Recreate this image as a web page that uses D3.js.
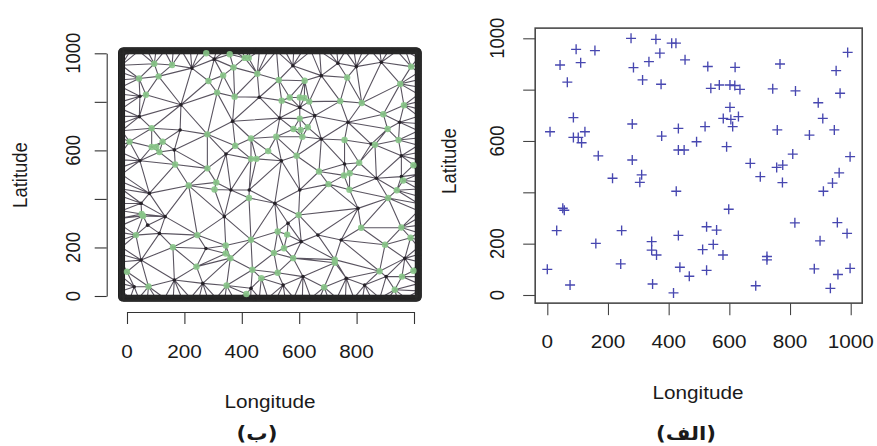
<!DOCTYPE html>
<html><head><meta charset="utf-8">
<script src="https://cdn.jsdelivr.net/npm/d3@7"></script>
<style>
body{margin:0;background:#fff}
svg{display:block}
text{font-family:"Liberation Sans",Arial,Helvetica,sans-serif;fill:#1a1a1a}
</style>
</head><body>
<svg id="c" width="877" height="446"></svg>
<script>
// observation locations (shared by both panels)
const lon = [0,75,31,51,56,9,86,86,102,124,113,42,95,110,66,157,168,160,215,245,242,276,284,280,280,314,311,305,335,358,371,375,377,410,424,454,425,432,432,451,344,344,360,347,416,432,437,468,492,520,529,525,558,512,547,579,525,539,567,602,618,635,619,591,602,580,605,630,611,598,669,702,724,724,687,743,767,758,756,776,775,809,818,816,864,893,908,910,940,962,946,952,965,990,998,956,988,899,880,958,998,933];
const lat = [100,39,251,338,330,636,691,614,614,636,593,896,957,905,829,952,542,201,455,251,121,1000,886,666,526,838,468,439,909,996,942,821,619,981,981,916,404,649,565,565,208,175,156,43,8,232,108,73,597,656,890,266,253,177,197,156,96,805,818,818,816,801,887,578,731,688,684,695,656,334,513,461,150,137,36,803,900,643,497,506,438,549,795,281,623,749,688,404,436,476,643,874,786,945,539,282,240,211,102,80,104,26];
// extra (black) mesh vertices
const meshLon = [226,188,45,43,368,185,461,165,45,304,345,578,735,799,886,677,602,532,654,950,770,677,851,956,758,538,49,72,133,113,49,165,264,339,275,25,426,362,432,78,602,805,515,869,561,607,665,746,968,613,544,764,828,903,956];
const meshLat = [939,788,823,739,720,684,819,602,557,976,585,949,959,945,963,908,777,733,743,716,716,647,626,578,544,557,382,292,327,258,148,66,52,327,196,38,437,437,32,423,437,361,382,485,300,224,251,231,155,80,45,73,45,80,492];
const axisTicks = [0,200,400,600,800,1000];
const leftXLabels = ["0","200","400","600","800",""];
const yLabels = ["0","200","","600","","1000"];
const rightXLabels = ["0","200","400","600","800","1000"];
const boundaryLon = [-19,1015];
const boundaryLat = [-9,1010];
const meshStep = 30, ringStep = 3;

const svg = d3.select("#c");
const SX = 1.12, FS = 18.5;

function htext(x,y,str,opt={}){
  return svg.append("text").attr("transform",`translate(${x},${y}) scale(${SX},1)`)
    .attr("text-anchor","middle").attr("dy",opt.dy||"0.35em")
    .style("font-size",(opt.fs||FS)+"px").style("font-family",opt.ff||null)
    .style("font-weight",opt.fw||null).text(str);
}
function vtext(x,y,str,opt={}){
  return svg.append("text").attr("transform",`translate(${x},${y}) scale(${SX},1) rotate(-90)`)
    .attr("text-anchor","middle").attr("dy","0.35em")
    .style("font-size",(opt.fs||FS)+"px").text(str);
}

// ---------- LEFT PANEL (mesh) ----------
const xL = d3.scaleLinear().domain([0,1000]).range([127,414]);
const yL = d3.scaleLinear().domain([0,1000]).range([296,53.3]);

const nodes = lon.map((x,i)=>[x,lat[i]]);
const meshNodes = meshLon.map((x,i)=>[x,meshLat[i]]);
nodes.push(...meshNodes);
const [bx0,bx1] = boundaryLon, [by0,by1] = boundaryLat;
const ring = [];
d3.range(bx0,bx1,meshStep).forEach(x=>{ring.push([x,by0]); ring.push([x,by1]);});
d3.range(by0,by1,meshStep).forEach(y=>{ring.push([bx0,y]); ring.push([bx1,y]);});
ring.push([bx1,by1]);
nodes.push(...ring);

const del = d3.Delaunay.from(nodes);
const {triangles, halfedges} = del;
const p = d3.path();
for (let e=0;e<triangles.length;e++){
  if (halfedges[e] > e) continue;
  const a = nodes[triangles[e]];
  const b = nodes[triangles[e%3===2 ? e-2 : e+1]];
  p.moveTo(xL(a[0]),yL(a[1])); p.lineTo(xL(b[0]),yL(b[1]));
}
svg.append("path").attr("d",p.toString()).attr("fill","none")
  .attr("stroke","#5a5460").attr("stroke-width",1.1);

svg.append("g").selectAll("circle").data(meshNodes).join("circle")
  .attr("cx",d=>xL(d[0])).attr("cy",d=>yL(d[1])).attr("r",1.8).attr("fill","#262228");

// boundary band
svg.append("rect").attr("x",xL(bx0)).attr("y",yL(by1))
  .attr("width",xL(bx1)-xL(bx0)).attr("height",yL(by0)-yL(by1))
  .attr("rx",2).attr("fill","none").attr("stroke","#0a0a0a").attr("stroke-width",7);
const dense = [];
d3.range(bx0,bx1,ringStep).forEach(x=>{dense.push([x,by0]); dense.push([x,by1]);});
d3.range(by0,by1,ringStep).forEach(y=>{dense.push([bx0,y]); dense.push([bx1,y]);});
svg.append("g").selectAll("circle").data(dense).join("circle")
  .attr("cx",d=>xL(d[0])).attr("cy",d=>yL(d[1])).attr("r",2.6)
  .attr("fill","none").attr("stroke","#2b2b2b").attr("stroke-width",0.6);

svg.append("g").selectAll("circle").data(lon).join("circle")
  .attr("cx",d=>xL(d)).attr("cy",(d,i)=>yL(lat[i])).attr("r",3.2)
  .attr("fill","#88c688").attr("fill-opacity",0.9);

// left axes
const gLx = svg.append("g").attr("transform","translate(0,312)")
  .call(d3.axisBottom(xL).tickValues(axisTicks).tickSize(12).tickSizeOuter(0).tickFormat(()=>""));
const gLy = svg.append("g").attr("transform","translate(106.7,0)")
  .call(d3.axisLeft(yL).tickValues(axisTicks).tickSize(12).tickSizeOuter(0).tickFormat(()=>""));
[gLx,gLy].forEach(g=>{g.selectAll("path,line").attr("stroke","#333").attr("stroke-width",1.1);});
axisTicks.forEach((t,i)=>{ if(leftXLabels[i]) htext(xL(t),352,leftXLabels[i]); });
axisTicks.forEach((t,i)=>{ if(yLabels[i]) vtext(72.5,yL(t),yLabels[i]); });
vtext(19.5,175,"Latitude");
htext(270,402,"Longitude");
htext(257,433,"(ب)",{ff:"DejaVu Sans",fw:"bold",fs:19});

// ---------- RIGHT PANEL (scatter) ----------
const xR = d3.scaleLinear().domain([0,1000]).range([547.3,850.7]);
const yR = d3.scaleLinear().domain([0,1000]).range([295,38.3]);
const ex = d3.extent(lon), ey = d3.extent(lat);
const px = (ex[1]-ex[0])*0.04, py = (ey[1]-ey[0])*0.04;
svg.append("rect").attr("x",xR(ex[0]-px)).attr("y",yR(ey[1]+py))
  .attr("width",xR(ex[1]+px)-xR(ex[0]-px)).attr("height",yR(ey[0]-py)-yR(ey[1]+py))
  .attr("fill","none").attr("stroke","#4a4a4a").attr("stroke-width",1.6);
svg.append("g").selectAll("path").data(lon).join("path")
  .attr("transform",(d,i)=>`translate(${xR(d)},${yR(lat[i])})`)
  .attr("d","M-5,0H5M0,-5V5").attr("stroke","#4747b0").attr("stroke-width",1.35).attr("fill","none");

const boxB = yR(ey[0]-py), boxL = xR(ex[0]-px);
const gRx = svg.append("g").attr("transform",`translate(0,${boxB})`)
  .call(d3.axisBottom(xR).tickValues(axisTicks).tickSize(12).tickSizeOuter(0).tickFormat(()=>""));
const gRy = svg.append("g").attr("transform",`translate(${boxL},0)`)
  .call(d3.axisLeft(yR).tickValues(axisTicks).tickSize(12).tickSizeOuter(0).tickFormat(()=>""));
[gRx,gRy].forEach(g=>{g.select(".domain").remove(); g.selectAll("line").attr("stroke","#444").attr("stroke-width",1.1);});
axisTicks.forEach((t,i)=>htext(xR(t),341.5,rightXLabels[i]));
axisTicks.forEach((t,i)=>{ if(yLabels[i]) vtext(497,yR(t),yLabels[i]); });
vtext(449,161,"Latitude");
htext(698,393,"Longitude");
htext(686,433,"(الف)",{ff:"DejaVu Sans",fw:"bold",fs:19});
</script>
</body></html>
